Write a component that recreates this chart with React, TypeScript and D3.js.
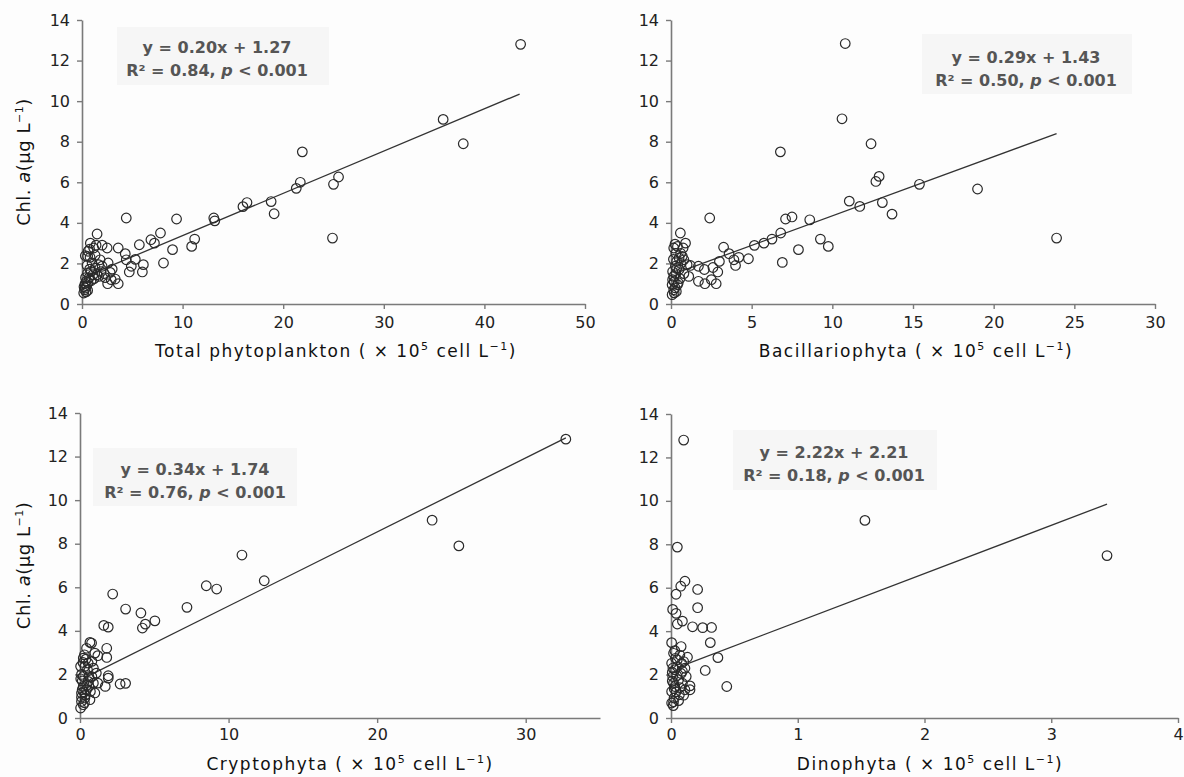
import React, {useEffect, useRef} from 'react';
import * as d3 from 'd3';

// chl. a (y) against cell counts (x, ×10^5 cell L-1)
const totalPts = [
    [1.5, 3.45], [4.4, 4.24], [9.4, 4.19], [13.1, 4.24], [13.2, 4.1], [16.0, 4.8], [16.4, 5.0],
    [18.8, 5.05], [19.1, 4.45], [21.3, 5.7], [21.7, 6.0], [21.9, 7.5], [24.9, 3.25], [25.0, 5.9],
    [25.5, 6.26], [35.9, 9.1], [37.9, 7.9], [43.6, 12.8], [7.8, 3.5], [6.85, 3.17], [7.2, 3.0],
    [8.1, 2.02], [9.0, 2.68], [10.9, 2.84], [11.2, 3.2], [5.7, 2.92], [6.1, 1.94], [6.0, 1.58],
    [4.7, 1.58], [4.9, 1.86], [5.3, 2.2], [4.3, 2.48], [4.4, 2.18], [3.6, 2.76], [3.6, 1.0],
    [3.3, 1.23], [2.8, 1.56], [2.5, 2.76], [2.6, 2.02], [3.0, 1.72], [2.55, 1.0], [2.0, 2.9],
    [1.8, 2.18], [2.0, 1.86], [1.65, 1.36], [1.16, 2.76], [0.76, 2.7], [0.56, 2.35], [0.83, 3.0],
    [0.33, 2.38], [0.76, 1.72], [0.56, 1.53], [0.43, 1.12], [0.33, 0.79], [0.17, 0.54], [0.56, 0.67],
    [1.3, 1.77], [1.5, 1.44], [1.0, 2.02], [1.65, 1.94], [0.3, 1.0], [0.45, 0.9], [0.7, 1.3],
    [0.9, 1.6], [1.2, 1.25], [2.2, 1.5], [0.6, 2.6], [1.4, 2.9], [0.25, 0.7], [0.4, 0.6],
    [0.35, 1.3], [0.6, 1.05], [0.9, 1.15], [1.1, 1.45], [0.5, 1.9], [0.8, 2.3], [1.3, 2.4],
    [2.3, 1.3], [2.9, 1.2], [1.9, 1.6], [0.2, 0.85]
];
const bacilPts = [
    [10.8, 12.84], [10.6, 9.13], [12.4, 7.9], [6.78, 7.5], [12.7, 6.04], [12.9, 6.29], [11.05, 5.07],
    [11.7, 4.81], [13.1, 5.0], [13.7, 4.43], [15.4, 5.9], [19.0, 5.67], [23.9, 3.25], [2.4, 4.24],
    [7.1, 4.19], [7.5, 4.29], [8.6, 4.15], [6.8, 3.5], [6.26, 3.2], [5.76, 3.0], [5.17, 2.89],
    [9.26, 3.2], [9.75, 2.84], [7.9, 2.68], [6.9, 2.05], [4.8, 2.23], [4.2, 2.3], [3.26, 2.8],
    [3.6, 2.48], [3.9, 2.18], [4.0, 1.9], [3.0, 2.1], [2.9, 1.58], [2.8, 1.0], [2.6, 1.8],
    [2.5, 1.2], [2.1, 1.0], [1.7, 1.12], [1.7, 1.86], [2.07, 1.7], [1.2, 1.9], [1.1, 1.36],
    [0.8, 1.5], [0.58, 3.5], [0.9, 3.0], [0.4, 2.84], [0.17, 2.76], [0.6, 2.5], [0.5, 2.27],
    [0.8, 2.18], [0.27, 1.86], [0.17, 1.36], [0.07, 0.95], [0.17, 0.7], [0.07, 0.46], [0.33, 0.62],
    [0.4, 0.95], [0.3, 1.5], [0.5, 1.7], [1.0, 1.94], [0.75, 2.76], [0.2, 1.1], [0.35, 2.1],
    [0.25, 0.8], [0.55, 1.25], [0.1, 1.6], [0.15, 2.2], [0.3, 2.5], [0.45, 1.05], [0.2, 0.55],
    [0.1, 1.2], [0.6, 2.0], [0.35, 1.75], [0.25, 2.95], [0.7, 2.35]
];
const cryptoPts = [
    [10.9, 7.48], [12.4, 6.3], [8.5, 6.07], [9.2, 5.92], [7.2, 5.08], [5.04, 4.46], [4.1, 4.82],
    [4.4, 4.31], [4.2, 4.13], [3.07, 5.0], [2.2, 5.69], [1.6, 4.25], [1.9, 4.17], [1.8, 3.2],
    [1.8, 2.78], [1.9, 1.94], [1.9, 1.83], [1.7, 1.45], [2.7, 1.56], [3.07, 1.59], [0.67, 3.47],
    [0.78, 3.44], [0.44, 3.2], [1.0, 2.98], [1.2, 2.86], [0.22, 2.75], [0.04, 2.37], [0.33, 2.37],
    [0.55, 2.52], [0.9, 2.29], [1.1, 2.06], [0.22, 1.91], [0.55, 1.68], [0.9, 1.6], [0.22, 1.45],
    [0.44, 1.3], [0.7, 1.22], [0.1, 1.15], [0.33, 0.92], [0.1, 0.76], [0.22, 0.61], [0.04, 0.46],
    [1.0, 1.15], [0.67, 0.84], [0.5, 2.22], [1.2, 1.6], [23.7, 9.08], [25.5, 7.9], [32.7, 12.8],
    [0.3, 2.9], [0.15, 1.7], [0.6, 1.9], [0.8, 2.6], [0.35, 1.05], [0.1, 2.0], [0.2, 2.55],
    [0.45, 1.5], [0.15, 1.3], [0.1, 0.95], [0.3, 0.7], [0.6, 1.45], [0.8, 1.9], [0.4, 2.7],
    [0.25, 1.2], [0.05, 1.8]
];
const dinoPts = [
    [0.1, 12.8], [1.53, 9.1], [0.05, 7.87], [0.11, 6.3], [0.077, 6.07], [0.04, 5.7], [0.21, 5.92],
    [0.21, 5.08], [0.013, 5.0], [0.04, 4.82], [0.09, 4.46], [0.05, 4.33], [0.17, 4.2], [0.25, 4.16],
    [0.32, 4.17], [0.31, 3.47], [0.37, 2.78], [0.27, 2.19], [0.44, 1.45], [0.15, 1.48], [0.15, 1.3],
    [0.13, 2.8], [0.08, 3.29], [0.005, 3.47], [0.02, 2.98], [0.05, 2.68], [0.084, 2.52], [0.11, 2.29],
    [0.03, 2.22], [0.013, 1.91], [0.06, 1.76], [0.09, 1.6], [0.03, 1.45], [0.066, 1.07], [0.005, 1.22],
    [0.024, 0.92], [0.005, 0.69], [0.018, 0.57], [0.11, 1.3], [0.05, 2.37], [0.005, 2.52], [0.07, 2.9],
    [0.12, 1.91], [3.44, 7.48], [0.03, 3.1], [0.08, 2.05], [0.02, 1.6], [0.1, 2.6], [0.01, 2.1],
    [0.04, 1.2], [0.06, 0.8], [0.01, 1.7], [0.035, 2.75], [0.1, 1.05], [0.02, 0.75], [0.07, 1.4],
    [0.015, 2.3], [0.045, 1.95], [0.09, 2.15], [0.025, 1.35]
];

// regression line end points as drawn in the figure
const totalFit = [[0.3, 1.35], [43.5, 10.35]];
const bacilFit = [[0.3, 1.52], [23.9, 8.4]];
const cryptoFit = [[0.3, 1.84], [32.7, 12.86]];
const dinoFit = [[0.05, 2.32], [3.44, 9.85]];

const eqLabels = ['y = 0.20x + 1.27', 'y = 0.29x + 1.43', 'y = 0.34x + 1.74', 'y = 2.22x + 2.21'];
const r2Labels = ['0.84', '0.50', '0.76', '0.18'];
const xNames = ['Total phytoplankton', 'Bacillariophyta', 'Cryptophyta', 'Dinophyta'];
const yTicks = [0, 2, 4, 6, 8, 10, 12, 14];

const panels = [
    {pts: totalPts, fit: totalFit, xMax: 50, xTicks: [0, 10, 20, 30, 40, 50], pad: 8,
        x0: 82, x1: 585, yTop: 20, yBot: 304, eqX: 217, eqY: 53, titleX: 336, titleY: 357, box: [117, 27, 212, 58]},
    {pts: bacilPts, fit: bacilFit, xMax: 30, xTicks: [0, 5, 10, 15, 20, 25, 30], pad: 8,
        x0: 671, x1: 1155, yTop: 20, yBot: 304, eqX: 1026, eqY: 63, titleX: 916, titleY: 357, box: [922, 34, 210, 60]},
    {pts: cryptoPts, fit: cryptoFit, xMax: 35, xTicks: [0, 10, 20, 30], pad: 6,
        x0: 80, x1: 600, yTop: 413, yBot: 718, eqX: 195, eqY: 475, titleX: 350, titleY: 770, box: [93, 448, 204, 58]},
    {pts: dinoPts, fit: dinoFit, xMax: 4, xTicks: [0, 1, 2, 3, 4], pad: 6,
        x0: 671, x1: 1178, yTop: 414, yBot: 718, eqX: 834, eqY: 458, titleX: 930, titleY: 770, box: [733, 430, 204, 60]},
];

const FONT = '"DejaVu Sans", Verdana, sans-serif';

export default function App() {
    const svgRef = useRef(null);

    useEffect(() => {
        const width = 1184;
        const height = 777;
        const svg = d3.select(svgRef.current)
            .attr('width', width)
            .attr('height', height)
            .style('font-family', FONT);
        svg.selectAll('*').remove();

        svg.append('rect').attr('width', width).attr('height', height).attr('fill', '#fdfdfd');

        panels.forEach((p, i) => {
            const xScale = d3.scaleLinear().domain([0, p.xMax]).range([p.x0, p.x1]);
            const yScale = d3.scaleLinear().domain([0, 14]).range([p.yBot, p.yTop]);
            const g = svg.append('g');

            // faint box behind the equation
            g.append('rect')
                .attr('x', p.box[0]).attr('y', p.box[1])
                .attr('width', p.box[2]).attr('height', p.box[3])
                .attr('fill', '#f6f6f6');

            const xAxis = g.append('g')
                .attr('transform', `translate(0, ${p.yBot})`)
                .call(d3.axisBottom(xScale).tickValues(p.xTicks).tickFormat(d3.format('d'))
                    .tickSize(5).tickSizeOuter(0).tickPadding(p.pad));
            const yAxis = g.append('g')
                .attr('transform', `translate(${p.x0}, 0)`)
                .call(d3.axisLeft(yScale).tickValues(yTicks).tickSize(5).tickSizeOuter(0).tickPadding(7));
            [xAxis, yAxis].forEach(ax => {
                ax.select('.domain').attr('stroke', '#7a7a7a').attr('stroke-width', 1.6);
                ax.selectAll('.tick line').attr('stroke', '#7a7a7a').attr('stroke-width', 1.4);
                ax.selectAll('.tick text')
                    .attr('fill', '#222')
                    .style('font-size', '16px')
                    .style('font-family', FONT);
            });

            g.append('line')
                .attr('x1', xScale(p.fit[0][0])).attr('y1', yScale(p.fit[0][1]))
                .attr('x2', xScale(p.fit[1][0])).attr('y2', yScale(p.fit[1][1]))
                .attr('stroke', '#333')
                .attr('stroke-width', 1.3);

            g.selectAll('.pt')
                .data(p.pts)
                .enter()
                .append('circle')
                .attr('class', 'pt')
                .attr('cx', d => xScale(d[0]))
                .attr('cy', d => yScale(d[1]))
                .attr('r', 4.8)
                .attr('fill', 'none')
                .attr('stroke', '#2a2a2a')
                .attr('stroke-width', 1.2);

            // equation
            g.append('text')
                .attr('x', p.eqX).attr('y', p.eqY)
                .attr('text-anchor', 'middle')
                .attr('fill', '#555')
                .style('font-weight', 'bold')
                .style('font-size', '16px')
                .text(eqLabels[i]);

            const r2 = g.append('text')
                .attr('x', p.eqX).attr('y', p.eqY + 23)
                .attr('text-anchor', 'middle')
                .attr('fill', '#555')
                .style('font-weight', 'bold')
                .style('font-size', '16px');
            r2.append('tspan').text(`R² = ${r2Labels[i]}, `);
            r2.append('tspan').style('font-style', 'italic').text('p');
            r2.append('tspan').text(' < 0.001');

            // x title
            const xt = g.append('text')
                .attr('x', p.titleX).attr('y', p.titleY)
                .attr('text-anchor', 'middle')
                .attr('fill', '#111')
                .style('font-size', '17px')
                .style('letter-spacing', '1.5px');
            xt.append('tspan').text(`${xNames[i]} ( × 10`);
            xt.append('tspan').attr('dy', -7).style('font-size', '11px').text('5');
            xt.append('tspan').attr('dy', 7).text(' cell L');
            xt.append('tspan').attr('dy', -7).style('font-size', '11px').text('−1');
            xt.append('tspan').attr('dy', 7).text(')');

            // y title on the left panels only
            if (i % 2 === 0) {
                const cy = (p.yTop + p.yBot) / 2;
                const yt = g.append('text')
                    .attr('transform', `translate(30, ${cy}) rotate(-90)`)
                    .attr('text-anchor', 'middle')
                    .attr('fill', '#111')
                    .style('font-size', '18px')
                    .style('letter-spacing', '0.5px');
                yt.append('tspan').text('Chl. ');
                yt.append('tspan').style('font-style', 'italic').text('a');
                yt.append('tspan').text('(μg L');
                yt.append('tspan').attr('dy', -7).style('font-size', '11px').text('−1');
                yt.append('tspan').attr('dy', 7).text(')');
            }
        });
    }, []);

    return (
        <div style={{position: 'fixed', left: 0, top: 0, width: 1184, height: 777, overflow: 'hidden'}}>
            <svg ref={svgRef} style={{display: 'block'}}/>
        </div>
    );
}
